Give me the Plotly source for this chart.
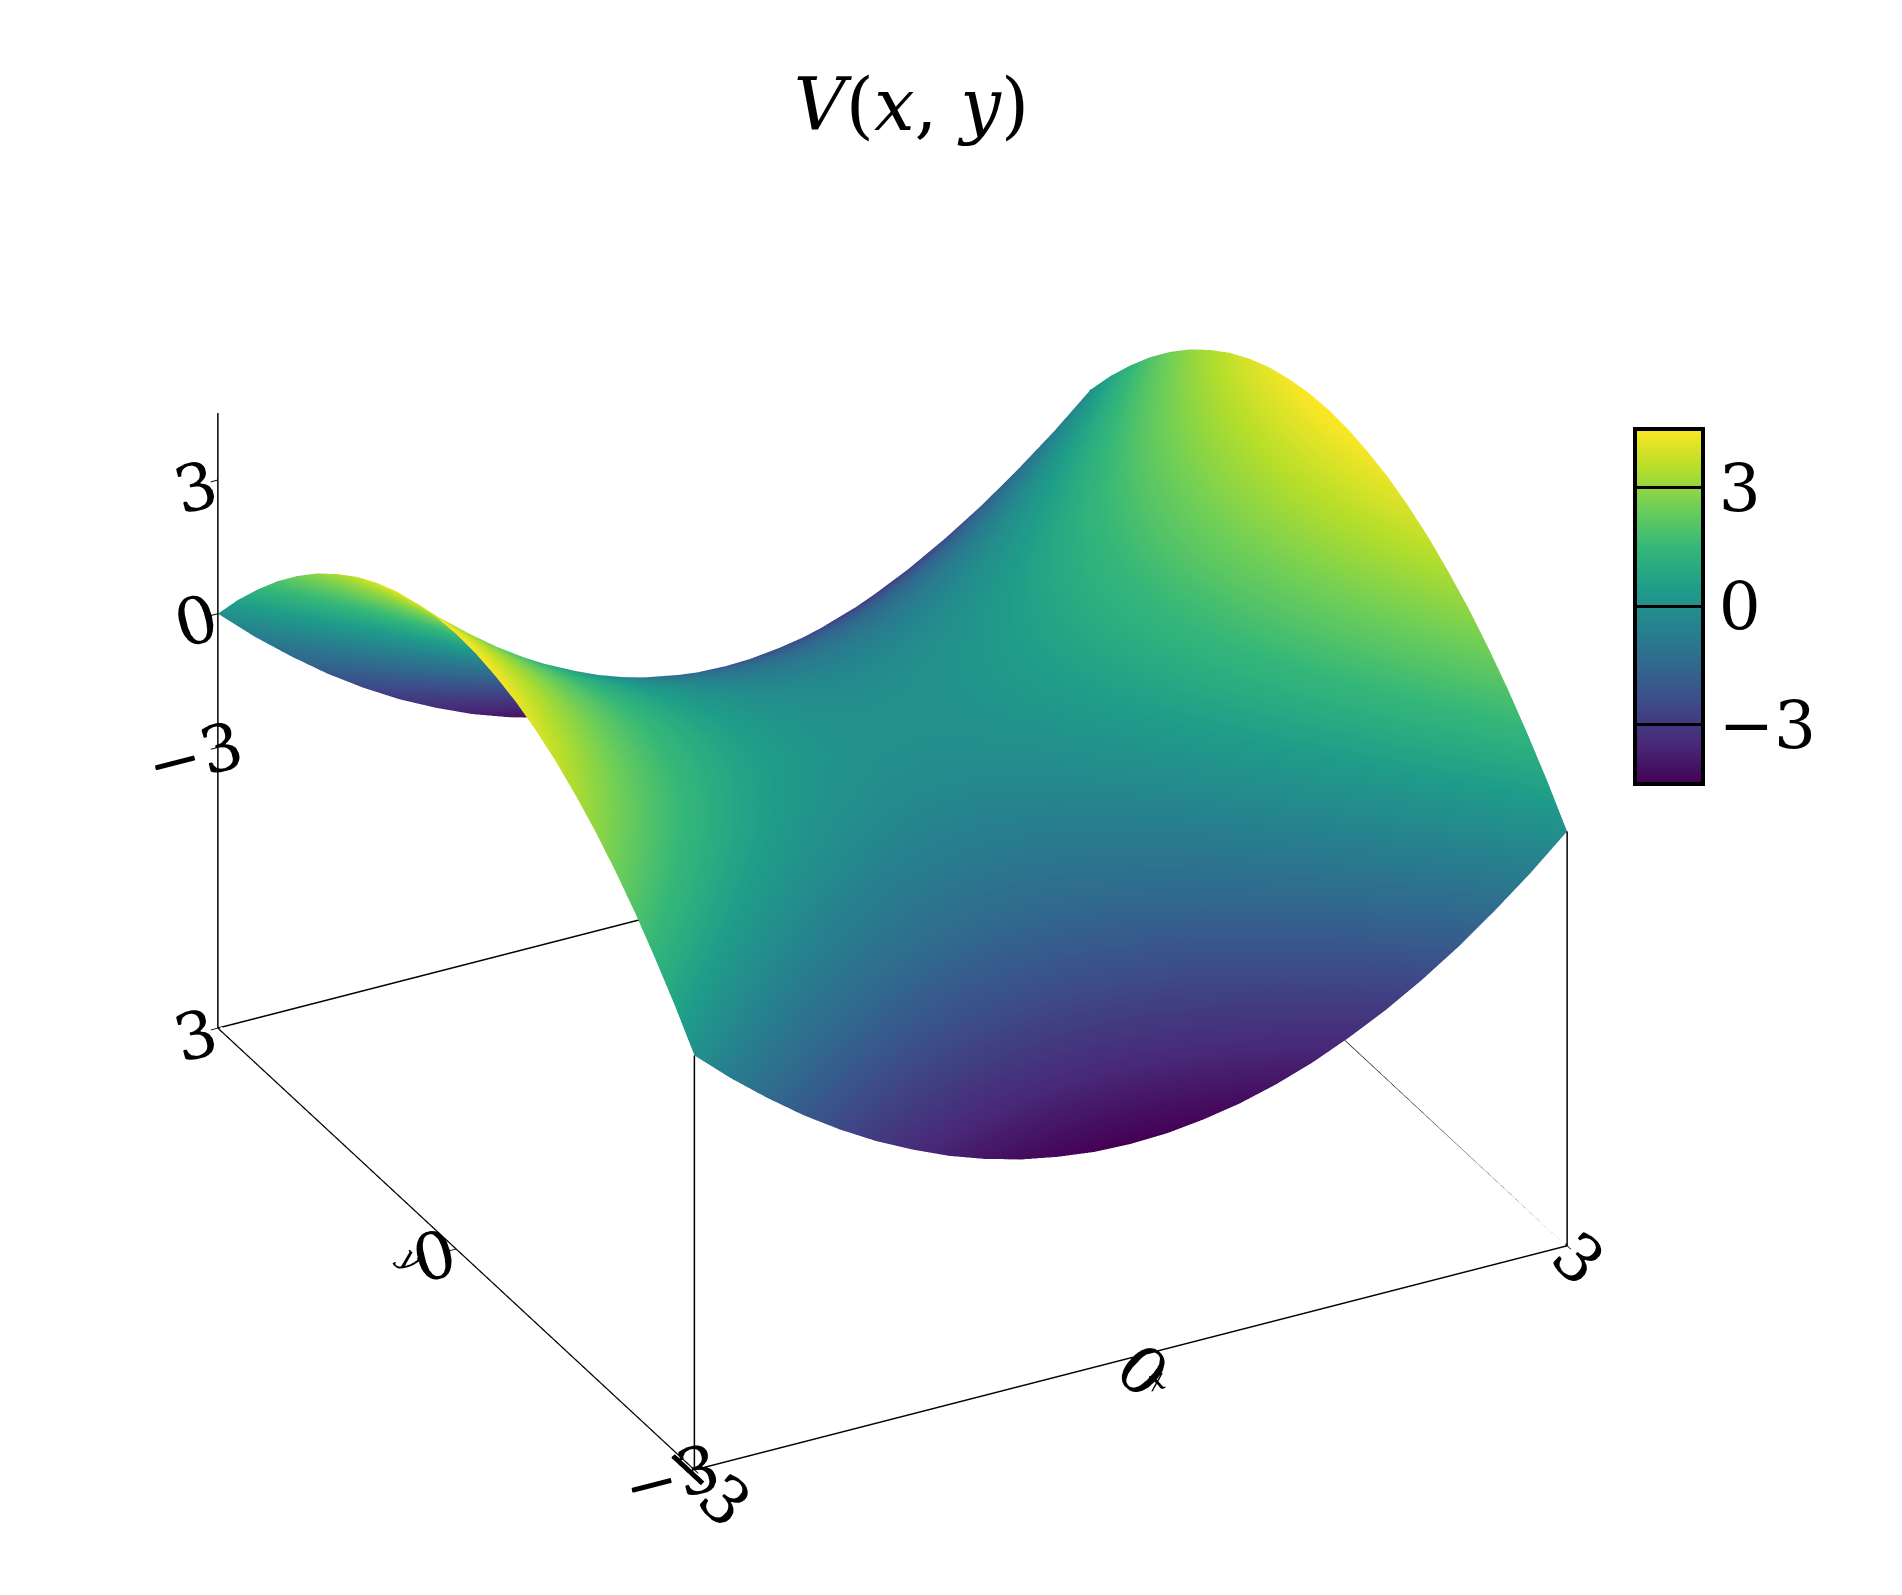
import plotly.graph_objects as go
import numpy as np

# grid coordinates
x_vals = [-3.0, -2.75, -2.5, -2.25, -2.0, -1.75, -1.5, -1.25, -1.0, -0.75, -0.5, -0.25, 0.0,
          0.25, 0.5, 0.75, 1.0, 1.25, 1.5, 1.75, 2.0, 2.25, 2.5, 2.75, 3.0]
y_vals = list(x_vals)

# saddle profiles: V(x, y) = px(x) - py(y)
px = [4.5, 3.78, 3.13, 2.53, 2.0, 1.53, 1.13, 0.78, 0.5, 0.28, 0.13, 0.03, 0.0,
      0.03, 0.13, 0.28, 0.5, 0.78, 1.13, 1.53, 2.0, 2.53, 3.13, 3.78, 4.5]
py = list(px)

tick_vals = [-3, 0, 3]
tick_text = ["\u22123", "0", "3"]
z_range = [-9.3, 4.5]

z_grid = np.array(px)[None, :] - np.array(py)[:, None]

FONT = "DejaVu Serif"

axis_style = dict(
    showbackground=False, showgrid=False, zeroline=False,
    showline=True, linecolor="black", linewidth=3,
    ticks="outside", tickcolor="black", ticklen=8, tickwidth=2,
    tickvals=tick_vals, ticktext=tick_text,
    tickfont=dict(family=FONT, size=28, color="black"),
    showspikes=False,
)

fig = go.Figure()
fig.add_trace(go.Surface(
    x=x_vals, y=y_vals, z=z_grid,
    colorscale="Viridis", cmin=-4.5, cmax=4.5,
    showscale=True,
    lighting=dict(ambient=1, diffuse=0, specular=0, roughness=1, fresnel=0),
    colorbar=dict(
        x=0.85, xanchor="left", y=0.625, yanchor="middle",
        len=0.235, lenmode="fraction", thickness=68,
        outlinecolor="black", outlinewidth=4,
        tickvals=tick_vals, ticktext=tick_text,
        ticks="inside", ticklen=68, tickcolor="black", tickwidth=3,
        tickfont=dict(family=FONT, size=66, color="black"),
    ),
))

# gnuplot-like border: back edges of the base and corner verticals
x0, x1 = x_vals[0], x_vals[-1]
y0, y1 = y_vals[0], y_vals[-1]
zb = z_range[0]
border_x = [x0, x1, x1, None, x1, x1, None, x0, x0, None, x1, x1]
border_y = [y1, y1, y0, None, y1, y1, None, y0, y0, None, y0, y0]
border_z = [zb, zb, zb, None, zb, z_grid[-1, -1], None, zb, z_grid[0, 0], None, zb, z_grid[0, -1]]
fig.add_trace(go.Scatter3d(
    x=border_x, y=border_y, z=border_z, mode="lines",
    line=dict(color="black", width=3), showlegend=False, hoverinfo="skip",
))

fig.update_layout(
    width=1902, height=1595,
    paper_bgcolor="white",
    margin=dict(l=0, r=0, t=0, b=0),
    title=dict(text="<i>V</i>(<i>x</i>, <i>y</i>)", x=0.475, xanchor="center", y=0.955,
               font=dict(family=FONT, size=72, color="black")),
    scene=dict(
        domain=dict(x=[0.0, 0.93], y=[0.02, 0.95]),
        xaxis=dict(axis_style, range=[x0, x1],
                   title=dict(text="<i>x</i>", font=dict(family=FONT, size=30, color="black"))),
        yaxis=dict(axis_style, range=[y0, y1],
                   title=dict(text="<i>y</i>", font=dict(family=FONT, size=30, color="black"))),
        zaxis=dict(axis_style, range=z_range, title=dict(text="")),
        aspectmode="manual",
        aspectratio=dict(x=1.33, y=1.38, z=0.95),
        camera=dict(eye=dict(x=-1.0, y=-1.9, z=1.2),
                    projection=dict(type="orthographic")),
    ),
)

fig.write_html("out.html")
